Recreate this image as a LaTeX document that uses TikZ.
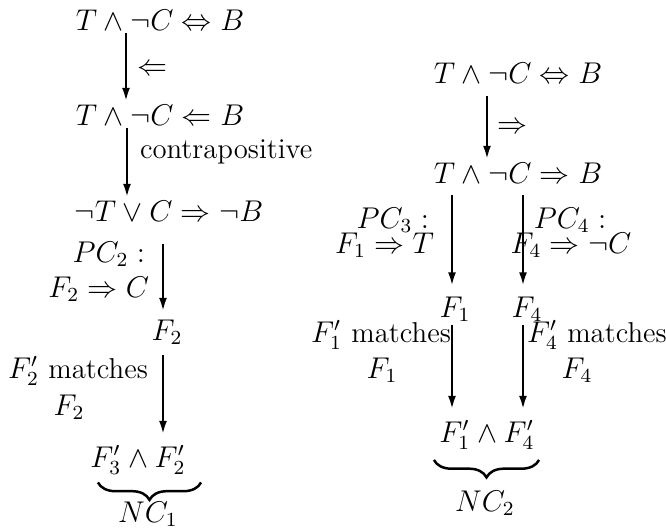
\documentclass[tikz,border=0pt]{standalone}
\usepackage{amsmath}
\usepackage{tikz}
\usetikzlibrary{arrows.meta,positioning,decorations.pathreplacing}

\begin{document}
\begin{tikzpicture}[
x=0.4pt, y=-0.4pt,
expr/.style={anchor=base, inner sep=1pt, font=\fontsize{11.5}{13}\selectfont},
lbl/.style={anchor=base, inner sep=1pt, font=\fontsize{11.5}{13}\selectfont},
arrow/.style={-{Latex[length=5.5pt,width=3.2pt]}, line width=1pt},
brc/.style={decorate, decoration={brace, mirror, amplitude=7pt}, line width=1pt}
]
\useasboundingbox (0,0) rectangle (666,529);

% left derivation
\node[expr] (l1) at (160,30) {$T \wedge \neg C \Leftrightarrow B$};
\node[expr] (l2) at (160,125) {$T \wedge \neg C \Leftarrow B$};
\node[expr] (l3) at (169,221) {$\neg T \vee C \Rightarrow \neg B$};
\node[expr] (l4) at (167,340) {$F_2$};
\node[expr] (l5) at (138,467) {$F_3' \wedge F_2'$};
\node[expr] (nc1) at (148,522) {$NC_1$};

\node[lbl, anchor=center] (imp1) at (152,70) {$\Leftarrow$};
\node[lbl, anchor=base west] (contra) at (137,158) {contrapositive};
\node[lbl, anchor=base east] (pc2) at (148,262) {$PC_2:$};
\node[lbl, anchor=base east] (pc2b) at (152,297) {$F_2 \Rightarrow C$};
\node[lbl] (m2) at (78,378) {$F_2'$ matches};
\node[lbl] (m2b) at (69,415) {$F_2$};

\draw[arrow] (126,0 |- l1.south) -- (126,0 |- l2.north);
\draw[arrow] (127,0 |- l2.south) -- (127,0 |- l3.north);
\draw[arrow, shorten <=8pt, shorten >=2pt] (163,0 |- l3.south) -- (163,0 |- l4.north);
\draw[arrow, shorten <=3pt, shorten >=3pt] (163,0 |- l4.south) -- (163,0 |- l5.north);
\draw[brc] ([xshift=4.2pt,yshift=-2pt]l5.south west) -- ([xshift=5pt,yshift=-2pt]l5.south east);

% right derivation
\node[expr] (r1) at (518,83) {$T \wedge \neg C \Leftrightarrow B$};
\node[expr] (r2) at (518,183) {$T \wedge \neg C \Rightarrow B$};
\node[expr] (r3) at (455,317) {$F_1$};
\node[expr] (r4) at (527,317) {$F_4$};
\node[expr] (r5) at (487,442) {$F_1' \wedge F_4'$};
\node[expr] (nc2) at (485,511) {$NC_2$};

\node[lbl, anchor=center] (imp2) at (512,128) {$\Rightarrow$};
\node[lbl, anchor=base east] (pc3) at (432,228) {$PC_3:$};
\node[lbl, anchor=base east] (pc3b) at (437,253) {$F_1 \Rightarrow T$};
\node[lbl] (pc4) at (570,228) {$PC_4:$};
\node[lbl] (pc4b) at (571,253) {$F_4 \Rightarrow \neg C$};
\node[lbl] (m1) at (381,342) {$F_1'$ matches};
\node[lbl] (m1b) at (382,378) {$F_1$};
\node[lbl, anchor=base west] (m4) at (524,342) {$F_4'$ matches};
\node[lbl] (m4b) at (577,378) {$F_4$};

\draw[arrow, shorten <=4pt] (487,0 |- r1.south) -- (487,0 |- r2.north);
\draw[arrow, shorten <=3.5pt, shorten >=3pt] (452,0 |- r2.south) -- (452,0 |- r3.north);
\draw[arrow, shorten <=3.5pt, shorten >=3pt] (523,0 |- r2.south) -- (523,0 |- r4.north);
\draw[arrow, shorten >=3pt] (452,0 |- r3.south) -- (452,0 |- r5.north);
\draw[arrow, shorten >=3pt] (523,0 |- r4.south) -- (523,0 |- r5.north);
\draw[brc] ([xshift=-1pt,yshift=-3pt]r5.south west) -- ([xshift=0.6pt,yshift=-3pt]r5.south east);
\end{tikzpicture}
\end{document}
